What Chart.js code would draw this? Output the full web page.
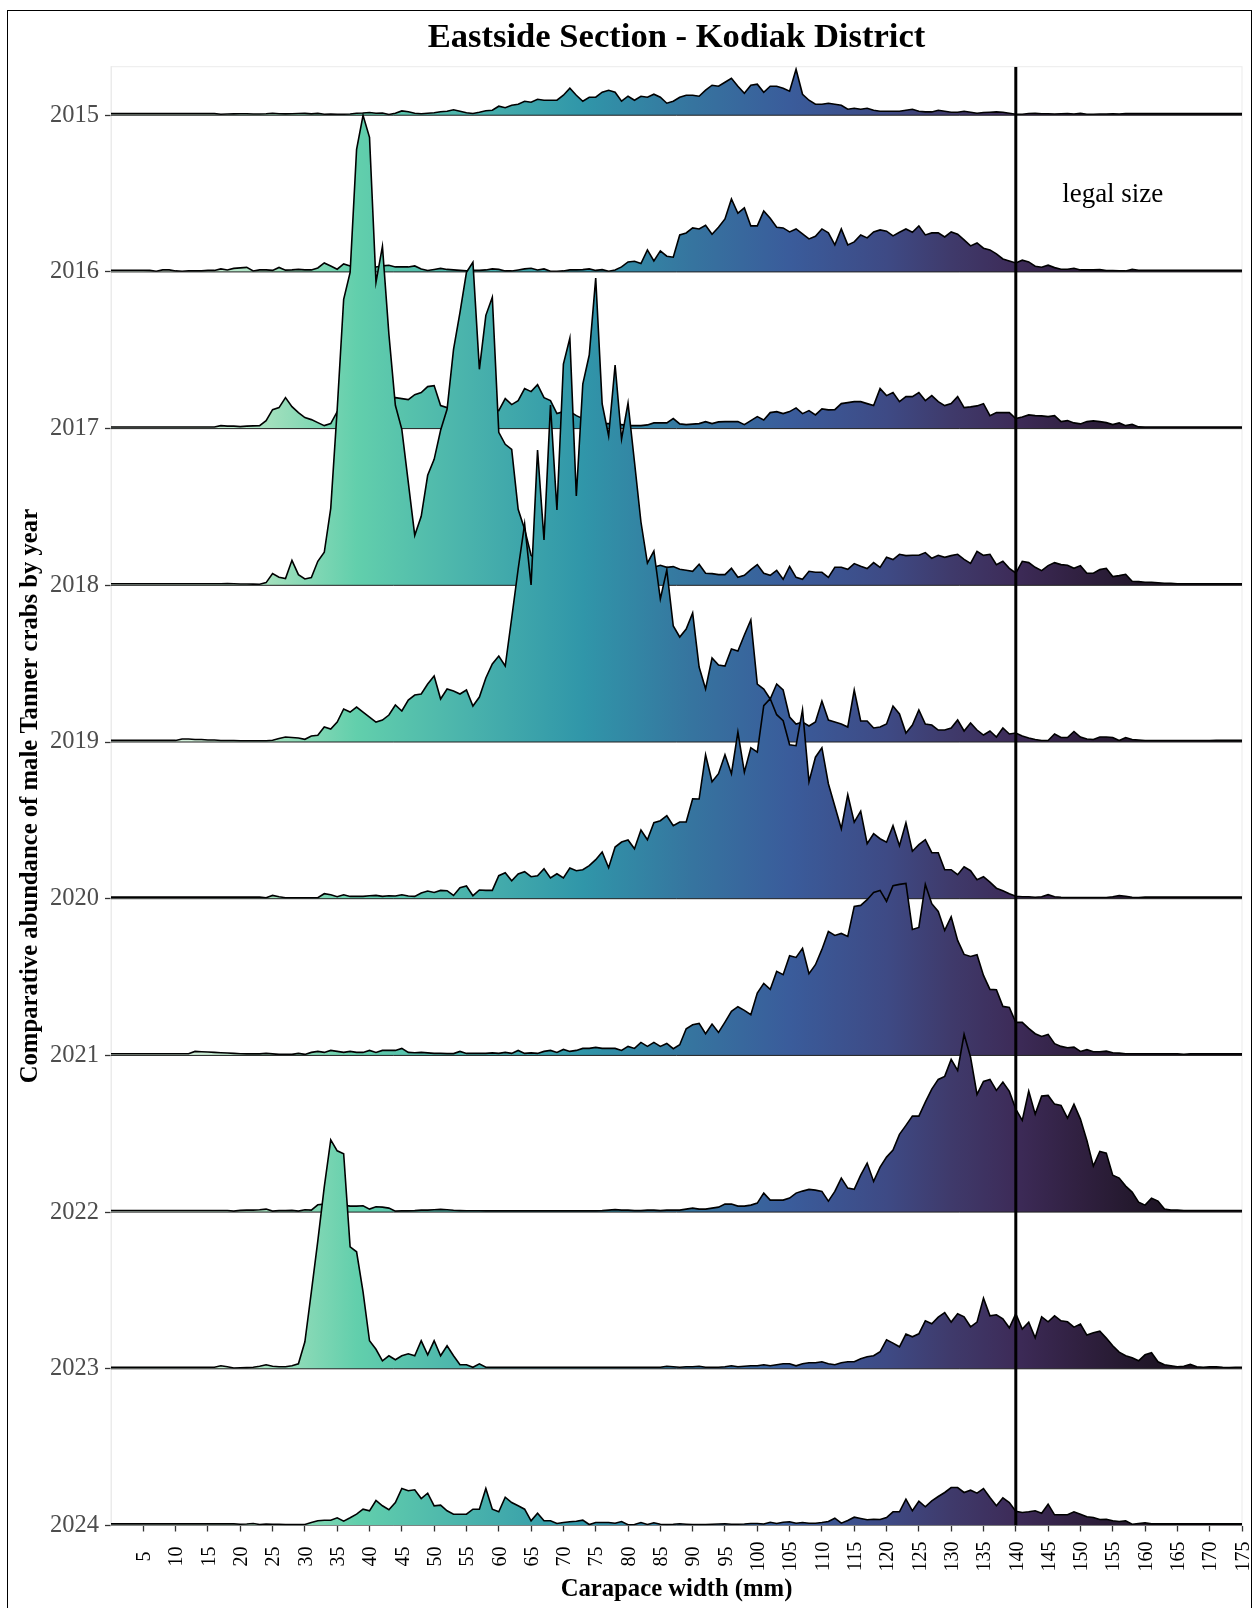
<!DOCTYPE html>
<html>
<head>
<meta charset="utf-8">
<title>Eastside Section - Kodiak District</title>
<script src="https://cdn.jsdelivr.net/npm/chart.js@4"></script>
<style>
  html, body { margin: 0; padding: 0; background: #fff; }
  #wrap { position: relative; width: 1255px; height: 1608px; overflow: hidden; }
  #frame { position: absolute; left: 7px; top: 10px; width: 1243px; height: 1620px; border: 1.5px solid #000; pointer-events: none; }
  canvas { position: absolute; left: 0; top: 0; }
</style>
</head>
<body>
<div id="wrap">
  <canvas id="myChart" width="1255" height="1608"></canvas>
  <div id="frame"></div>
</div>
<script>
// tick labels
const years = ['2015', '2016', '2017', '2018', '2019', '2020', '2021', '2022', '2023', '2024'];
const widthTicks = [5, 10, 15, 20, 25, 30, 35, 40, 45, 50, 55, 60, 65, 70, 75, 80, 85, 90, 95, 100, 105, 110, 115, 120, 125, 130, 135, 140, 145, 150, 155, 160, 165, 170, 175];

// carapace width of the first value of each year, then one value per mm
const firstWidth = [17, 6, 17, 18, 11, 24, 13, 19, 17, 20];

// comparative abundance, rows of ten end on a width ending in 9
const y2015 = [1, 1.2, 1.3,
  1.5, 1.5, 1.2, 1.2, 1.5, 2, 1.5, 1.3, 1.5, 1.7,
  1.8, 1.3, 1.8, 1, 1.2, 1, 1, 1.2, 2, 2.2,
  2.7, 2, 2.2, 0.7, 2, 4.3, 3.5, 2, 1.5, 2,
  2.5, 3.5, 4, 5.5, 4, 2.5, 1.7, 3, 4.5, 5,
  9, 7.5, 10, 11, 14, 13, 16, 15, 15, 15,
  20, 27, 20, 14, 18, 18, 23, 25, 23, 14,
  19, 15, 19, 18, 21, 18, 12, 14, 18, 20,
  20, 19, 25, 30, 29, 33, 37, 29, 22, 30,
  31, 23, 29, 29, 27, 24, 46, 21, 15, 11,
  11, 12, 11, 10, 6, 7, 6, 7, 5, 4,
  4, 4, 4, 5, 6, 4, 3.3, 3.3, 5, 4,
  3, 3, 4, 3, 2, 2.7, 3, 3.3, 3, 2,
  1, 1, 1.7, 1.8, 1.4, 1.5, 1.2, 1.5, 1.7, 1.2,
  1.8, 1, 1, 1.2, 1.2, 1.4, 1.2];
const y2016 = [1.5, 0.7, 2, 2,
  1, 0.7, 1, 1, 1, 1.5, 1.5, 3, 2, 3.5,
  4, 4.5, 1, 2, 2, 1.5, 4.5, 1.8, 2, 2.5,
  2, 2, 4, 9, 6, 2.7, 8, 6, 5, 5,
  5, 5, 6, 6.7, 5, 5, 5, 6, 3, 1.5,
  2.5, 3.5, 2.5, 2, 1.5, 1, 1.5, 1.5, 2, 3,
  2.5, 1, 1, 2, 3, 3.7, 2, 3, 0.7, 0.7,
  1, 2, 2, 2.3, 3, 1.5, 2.3, 0.7, 2, 5,
  10, 10.7, 8.3, 22, 11, 21, 15.7, 14.7, 37, 39,
  44, 43, 46.7, 37.7, 44.7, 53, 73, 58.7, 64, 46,
  46, 61, 53.7, 44.7, 44, 40, 43, 38, 33, 35.7,
  43, 39, 27, 43, 27, 30, 37, 34, 40, 42,
  40.7, 36, 39.7, 43, 39.7, 46, 37, 39, 39, 35,
  40, 37.7, 32, 26, 29, 23.7, 22, 18, 13, 11,
  9, 11.7, 10, 5.7, 4.7, 6.7, 4.3, 2.7, 2.7, 3.7,
  2, 2, 2, 2.3, 1.3, 1.3, 1, 1, 2.5, 1.7];
const y2017 = [3, 2.5, 2.5,
  2, 2.5, 2.7, 3, 8, 19, 21, 31, 22, 16,
  11, 9, 6, 3, 5, 17, 24, 28, 30, 30,
  28, 27, 28, 30, 31, 30, 29, 34, 36, 42,
  43, 23, 21, 22, 25, 28, 30, 30, 28, 22,
  18, 30, 24, 28, 40, 37, 44, 31, 28, 15,
  17, 17, 13, 10, 8, 8, 5, 5, 4, 4,
  3, 3, 3, 3.7, 5.7, 5.7, 5.7, 10, 4.7, 4,
  4.5, 5, 7, 5, 6.7, 7, 7, 7, 4, 8,
  12, 8.7, 16, 17, 15, 17, 20.7, 15, 18, 13.7,
  19.7, 18.7, 19, 25, 26, 27, 27, 25, 23, 40,
  33, 36, 27, 32, 32, 36, 28, 33, 27, 23,
  25, 32, 21, 21.7, 22.7, 25, 13, 16, 16, 16,
  10, 11.7, 13.7, 13, 12.7, 12, 13, 7, 8, 5.7,
  4.7, 7, 7.7, 7, 6, 4, 5.7, 3, 4.3, 1.7];
const y2018 = [1.7, 1.5,
  1.3, 1.3, 1.2, 1, 2.7, 11.7, 8, 6.7, 25, 10.7,
  6.3, 7.7, 24, 33, 77, 176, 286, 313, 436, 470,
  448, 303, 339, 251, 180, 156, 103, 50, 69, 110,
  126, 155, 176, 236, 273, 313, 323, 216, 270, 288,
  153, 141, 136, 76, 56, 30, 25, 22, 20, 18,
  18, 18, 18, 18, 18, 18, 18, 18, 18, 18,
  18, 18, 18, 18, 18, 20, 18, 18.7, 16, 15,
  14, 21, 12, 11.7, 10.7, 10.7, 17, 8, 10, 15.7,
  20.7, 12, 10, 15, 6, 19, 8, 6, 14, 13,
  13, 8, 18, 18, 16, 21.7, 19, 16.7, 22.7, 18,
  28, 25.7, 31, 29.7, 30, 30, 32.7, 27, 30, 28,
  29.7, 31, 26, 22, 34, 30, 31, 20.7, 24, 17,
  12.3, 24, 22.7, 18, 14.7, 19.7, 22.7, 20.7, 20, 17,
  19.7, 12, 12, 15.7, 17, 8.7, 9.7, 11, 4, 3.7,
  3, 3, 2.5, 2, 2, 1.5];
const y2019 = [3, 3, 2.5, 2.5, 2, 2, 1.5, 1.5, 1.5,
  1.2, 1.2, 1.2, 1.2, 1.2, 1.7, 3.5, 5, 4.5, 4,
  2.7, 6, 6.7, 15, 13, 20, 33, 30, 35, 30,
  25, 20, 22, 27, 37, 31, 42, 47, 48, 58,
  66, 43, 53, 51, 48, 52, 36, 45, 64, 78,
  86, 76, 124, 173, 218, 157, 292, 202, 337, 232,
  378, 404, 246, 358, 387, 464, 338, 306, 377, 303,
  339, 280, 220, 179, 191, 143, 172, 116, 105, 113,
  129, 75, 53, 84, 77, 76, 93, 91, 107, 122,
  58, 53, 43, 58, 52, 25, 18, 20, 16, 20,
  41, 22, 20, 18, 15, 52, 21, 21, 14, 15,
  18, 36, 28, 9, 17, 32, 18, 17, 12, 12,
  14, 22, 11, 19, 12, 7, 11, 5, 14, 8,
  9, 6, 4, 2.5, 1.5, 1.5, 8, 4.5, 4.5, 10.5,
  5, 3, 2.5, 5, 5, 4.5, 1.5, 4.5, 2.5, 2,
  1.5, 1.5, 1.5, 1.5, 1.5, 1.5, 1.5, 1.5, 1.5, 1.5, 1.5];
const y2020 = [1, 3.3, 2, 1, 1, 1,
  1, 1, 1, 5, 4, 2, 4, 2.3, 2.3, 2.3,
  3, 3.3, 2.3, 3, 2.7, 4, 2.7, 2.3, 5.7, 7.7,
  6.3, 8.3, 8, 3.3, 11, 12.7, 3, 8.7, 8.3, 8.3,
  23, 26, 18, 24.7, 27, 22, 23, 30, 20.7, 25,
  20.7, 30.7, 28, 29, 33, 39, 46.7, 31, 51.7, 56.7,
  58.7, 50, 68.7, 59, 76, 78, 83, 73, 76.7, 76.7,
  100, 99.7, 144, 117, 125, 144, 125, 166.5, 126.5, 151,
  146.5, 193, 200, 184, 178, 154, 153, 189, 117, 141.5,
  151, 115, 92.5, 70, 104, 76.5, 87.5, 55, 65, 60,
  56.5, 73, 53, 76, 47.5, 54, 59, 46, 46, 29,
  29, 24, 32, 28, 19, 22, 16.5, 10.5, 8, 5,
  2.5, 2, 2, 1.5, 2, 4, 2, 1.5, 1.2, 1.2,
  1.2, 1.2, 1.2, 1.2, 1.2, 2, 3.2, 2.5, 1.5, 1.2];
const y2021 = [4, 3.7, 3.4, 3, 2.7, 2.4, 2,
  1.7, 1.5, 1.5, 1.5, 2, 1.5, 1, 1, 1, 2,
  1, 3, 4, 3, 5, 4, 3, 4, 3, 3,
  5, 3, 5, 5, 5, 7, 3, 2.7, 3, 2.5,
  2, 2, 1.8, 1.8, 4, 2, 2, 2, 2, 2.5,
  2, 3, 2, 5, 2, 2.5, 2, 4, 5, 3,
  6, 4, 5, 7, 7, 8, 7, 7, 7, 5,
  9, 7, 13, 9, 13, 9, 12, 6.7, 10.7, 26.7,
  30.7, 32, 21.7, 31.3, 23, 33.3, 44, 48.7, 45, 40.7,
  62.3, 72, 66, 84, 80.7, 99.7, 98, 107, 81.7, 90.7,
  106, 124, 120, 122, 119, 149, 150, 155.7, 163, 165,
  154, 169.7, 171, 172, 126, 128, 171, 151.7, 144, 125,
  138.7, 115, 101, 99, 100.7, 80, 66, 65.7, 49, 48,
  33, 33, 27, 21.7, 19, 21, 11.7, 9, 7.7, 8.3,
  4, 5.7, 3.7, 3.7, 4.3, 2.7, 2.3, 1.7, 1.6, 1.6,
  1.6, 1.6, 1.6, 1.6, 1.6, 1.6, 1.2];
const y2022 = [1,
  1.7, 2, 2, 2.3, 3, 1, 1.5, 1.5, 1.7, 1,
  2.3, 2, 7.3, 8, 8, 8, 7, 6, 6, 6.3,
  3, 5.3, 5, 4, 1, 1.2, 1.2, 1.5, 2, 2,
  2.3, 2.7, 2.3, 1.8, 1.5, 1.3, 1.3, 1.3, 1.2, 1.2,
  1.2, 1.2, 1.2, 1.2, 1.2, 1.2, 1.2, 1.2, 1.2, 1.2,
  1.2, 1.2, 1.2, 1.2, 1.2, 1.2, 1.5, 2, 2.5, 2,
  2, 1.5, 1.5, 2, 2, 1.5, 2, 2, 2, 3,
  4, 3, 3, 4, 5, 8, 8, 6, 6, 7,
  9, 19, 12, 12, 12, 14, 19, 21, 22.7, 22,
  20.7, 11, 20.7, 34, 24, 22.7, 37, 49, 30.7, 45,
  55, 62, 77.7, 86.7, 96, 96, 110, 123, 132.7, 135.7,
  152.7, 141.7, 177.7, 155, 117.7, 130.7, 132.7, 121.7, 130, 120.7,
  103, 91.7, 121, 98, 116, 116.7, 108, 106.7, 94, 108,
  93, 71.7, 46, 60.7, 59, 37, 34, 26, 20, 10,
  7, 14, 11, 3, 2, 2, 1.5, 1.5, 1.5, 1.5, 1.5];
const y2023 = [3, 2, 0.8,
  1, 1.2, 1.5, 2.5, 4, 2.5, 2, 2, 3, 5,
  27, 77, 128, 182, 229, 218, 215, 122, 117, 77,
  28, 19.5, 8, 13, 9, 13, 15, 13, 28, 14,
  28, 13, 23, 13, 4, 4, 1.5, 5, 1.5, 1.5,
  1.5, 1.5, 1.5, 1.5, 1.5, 1.5, 1.5, 1.5, 1.5, 1.5,
  1.5, 1.5, 1.5, 1.5, 1.5, 1.5, 1.5, 1.5, 1.5, 1.5,
  1.5, 1.5, 1.5, 1.5, 1.5, 1.5, 2.5, 2, 1.5, 2,
  2, 2.5, 1.5, 1.5, 1.5, 2, 3, 2, 2.5, 3,
  3, 4, 3, 4, 5, 5, 3, 5, 6, 6,
  7, 5, 4, 6, 7, 7, 10, 12, 13, 17,
  29, 25.7, 22, 34.7, 32, 35, 48, 45, 51.7, 56.3,
  46.7, 55, 52, 42, 46.7, 70.7, 53, 54, 50, 41,
  55, 39.7, 46.7, 31, 52, 47, 53, 48, 47, 41.7,
  44.7, 33.7, 36, 37.7, 30.7, 23, 16.7, 13, 11, 8,
  14, 16, 7, 4, 3, 2, 2.5, 4.5, 2, 1.5,
  2, 2, 1.5, 1.2];
const y2024 = [1.2, 1.5, 2, 1, 1.5, 1.2, 1.2, 1, 1, 1,
  1, 3, 4.7, 5.3, 5.3, 7.7, 4.3, 7.7, 11.3, 16.3,
  14.7, 25, 19.7, 15.7, 23, 37, 34.7, 35.7, 27, 32.3,
  19.7, 20.3, 14.7, 11.3, 11.3, 11.3, 16.3, 16.3, 37, 16.3,
  13.7, 28.3, 23, 19.7, 16.3, 4.7, 12.3, 4.7, 4.7, 2,
  3, 3.7, 4.3, 5.3, 1, 3, 3, 3, 2.3, 4,
  0.7, 1, 3, 1, 2.7, 1.2, 1, 1.2, 1.7, 1.3,
  1, 1, 1, 1.2, 1.5, 1.7, 1.2, 1.2, 1.5, 2,
  2, 1.5, 3.3, 2, 3.3, 3.7, 2.3, 3, 2.3, 2.3,
  3, 4, 7.3, 2.3, 5, 8.3, 7, 5.7, 6.3, 6,
  8, 13.7, 13.7, 26.3, 14.7, 24.3, 18.7, 24.7, 29, 33,
  38, 38, 33, 35.3, 32.3, 37, 28, 19.7, 27.7, 23,
  14.3, 13, 13.7, 14.7, 12.3, 21.3, 10.7, 10.7, 10.7, 13.7,
  11.3, 8.7, 8, 6, 6.3, 4.7, 4, 4.7, 1.3, 2,
  2.7];
const yearValues = [y2015, y2016, y2017, y2018, y2019, y2020, y2021, y2022, y2023, y2024];

const rowStep = 156.7;      // abundance units between two baselines
const yTop = 1458.8;
const xMax = 175;
const legalSize = 140;
const restLevel = 1.6;      // outline height where nothing was caught
const serif = '"Liberation Serif", "Times New Roman", serif';

// reversed mako, light at small widths
const fillWidths = [0, 13, 25, 38, 55, 73, 90, 105, 120, 130, 140, 150, 160, 175];
const fillColors = ['#e3f6e8', '#d0efd8', '#9fdfbc', '#62cfac', '#4ab3ac', '#3096a9', '#36749f', '#3a5c9b', '#3e4a85', '#3f3a6b', '#3d2b58', '#302040', '#211729', '#0f090f'];

function baseOf(i) { return rowStep * (years.length - 1 - i); }

function widthGradient(context) {
  const chart = context.chart;
  if (!chart.chartArea) return '#348aa6';
  if (chart.$fillGradient) return chart.$fillGradient;
  const sx = chart.scales.x;
  const g = chart.ctx.createLinearGradient(sx.getPixelForValue(0), 0, sx.getPixelForValue(xMax), 0);
  fillWidths.forEach((w, n) => g.addColorStop(w / xMax, fillColors[n]));
  chart.$fillGradient = g;
  return g;
}

const datasets = [];
years.forEach((year, i) => {
  const base = baseOf(i);
  const start = firstWidth[i];
  const vals = yearValues[i];
  const points = [{ x: 0, y: base + restLevel }, { x: start - 1, y: base + restLevel }];
  vals.forEach((v, n) => points.push({ x: start + n, y: base + v }));
  points.push({ x: start + vals.length, y: base + restLevel });
  points.push({ x: xMax, y: base + restLevel });
  datasets.push({
    label: year,
    data: points,
    borderColor: '#000',
    borderWidth: 1.6,
    borderJoinStyle: 'miter',
    backgroundColor: widthGradient,
    fill: { value: base },
    pointRadius: 0,
    tension: 0,
    order: 100 - 2 * i
  });
  datasets.push({
    label: year + ' base',
    data: [{ x: 0, y: base }, { x: xMax, y: base }],
    borderColor: '#222',
    borderWidth: 1,
    fill: false,
    pointRadius: 0,
    order: 99 - 2 * i
  });
});
datasets.push({
  label: 'legal size',
  data: [{ x: legalSize, y: 0 }, { x: legalSize, y: yTop }],
  borderColor: '#000',
  borderWidth: 3,
  fill: false,
  pointRadius: 0,
  order: -1
});

// panel outline, the note, and the x labels (ggplot centres them on their own length)
const panelAndNote = {
  id: 'panelAndNote',
  beforeDatasetsDraw(chart) {
    const a = chart.chartArea, c = chart.ctx;
    c.save();
    c.strokeStyle = '#ebebeb';
    c.lineWidth = 1;
    c.strokeRect(a.left, a.top, a.right - a.left, a.bottom - a.top);
    c.restore();
  },
  afterDatasetsDraw(chart) {
    const c = chart.ctx, sx = chart.scales.x, a = chart.chartArea;
    c.save();
    c.font = '27px ' + serif;
    c.fillStyle = '#000';
    c.textAlign = 'center';
    c.textBaseline = 'middle';
    c.fillText('legal size', sx.getPixelForValue(155), chart.scales.y.getPixelForValue(1331));
    c.font = '20px ' + serif;
    widthTicks.forEach(v => {
      c.save();
      c.translate(sx.getPixelForValue(v) + 1.5, a.bottom + 31);
      c.rotate(-Math.PI / 2);
      c.fillText(String(v), 0, 0);
      c.restore();
    });
    c.restore();
  }
};

const config = {
  type: 'line',
  data: { datasets: datasets },
  options: {
    responsive: false,
    animation: false,
    layout: { padding: { left: 0, right: 13, top: 0, bottom: 0 } },
    plugins: {
      legend: { display: false },
      tooltip: { enabled: false },
      title: {
        display: true,
        fullSize: false,
        text: 'Eastside Section - Kodiak District',
        color: '#000',
        font: { family: serif, size: 34.6, weight: 'bold', lineHeight: 1.2 },
        padding: { top: 17, bottom: 8.2 }
      }
    },
    scales: {
      x: {
        type: 'linear',
        min: 0,
        max: xMax,
        afterBuildTicks: s => { s.ticks = widthTicks.map(v => ({ value: v })); },
        afterFit: s => { s.height = 82.5; s.paddingLeft = 0; s.paddingRight = 0; },
        grid: { drawOnChartArea: false, color: '#333', tickLength: 6, tickWidth: 1.3 },
        border: { color: '#ebebeb' },
        ticks: { display: false },
        title: {
          display: true,
          text: 'Carapace width (mm)',
          color: '#000',
          font: { family: serif, size: 24.7, weight: 'bold', lineHeight: 1.2 },
          padding: { top: 0, bottom: 4 }
        }
      },
      y: {
        type: 'linear',
        min: 0,
        max: yTop,
        afterBuildTicks: s => { s.ticks = years.map((_, i) => ({ value: baseOf(i) })); },
        afterFit: s => { s.width = 111; s.paddingTop = 0; s.paddingBottom = 0; },
        grid: { drawOnChartArea: false, color: '#333', tickLength: 6, tickWidth: 1.3 },
        border: { color: '#ebebeb' },
        ticks: {
          autoSkip: false,
          color: '#4d4d4d',
          padding: 6,
          font: { family: serif, size: 24.5 },
          callback: v => years[years.length - 1 - Math.round(v / rowStep)]
        },
        title: {
          display: true,
          text: 'Comparative abundance of male Tanner crabs by year',
          color: '#000',
          font: { family: serif, size: 24.7, weight: 'bold', lineHeight: 1.2 },
          padding: { top: 16, bottom: 0 }
        }
      }
    }
  },
  plugins: [panelAndNote]
};

var myChart = new Chart(document.getElementById('myChart'), config);
</script>
</body>
</html>
